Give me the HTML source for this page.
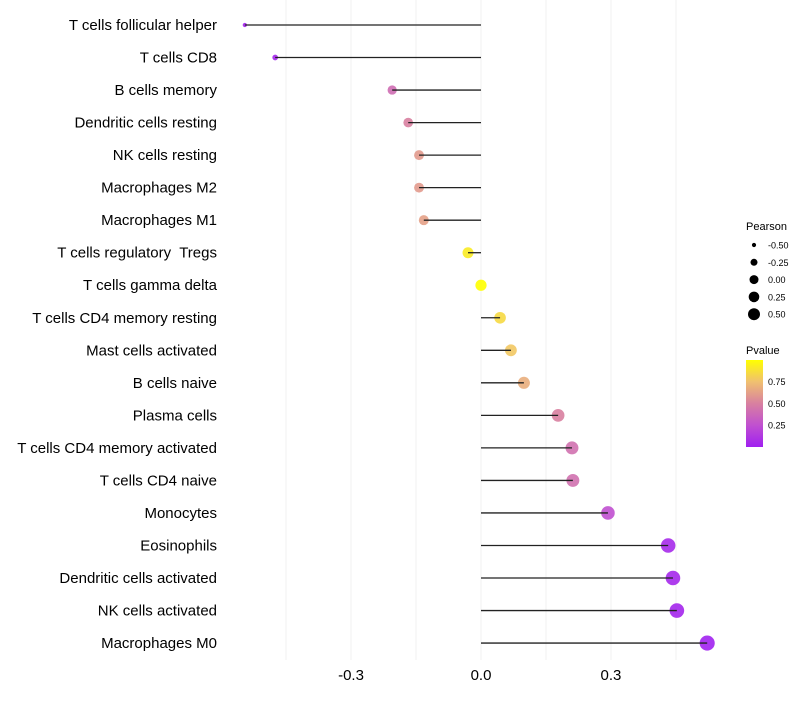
<!DOCTYPE html>
<html><head><meta charset="utf-8"><style>
body{margin:0;background:#fff;font-family:"Liberation Sans",sans-serif}
svg text{font-family:"Liberation Sans",sans-serif;white-space:pre}
</style></head><body>
<svg id="chart" width="800" height="700" xmlns="http://www.w3.org/2000/svg">
<g id="grid"></g>
<g id="ylab"></g>
<g id="xlab"></g>
<g id="marks"></g>
<g id="legend"></g>
</svg>
<script>
const categories=["T cells follicular helper","T cells CD8","B cells memory","Dendritic cells resting","NK cells resting","Macrophages M2","Macrophages M1","T cells regulatory  Tregs","T cells gamma delta","T cells CD4 memory resting","Mast cells activated","B cells naive","Plasma cells","T cells CD4 memory activated","T cells CD4 naive","Monocytes","Eosinophils","Dendritic cells activated","NK cells activated","Macrophages M0"];
const pearson=[-0.545,-0.475,-0.205,-0.168,-0.143,-0.143,-0.132,-0.03,0.0,0.044,0.069,0.099,0.178,0.21,0.212,0.293,0.432,0.443,0.452,0.522];
const pvalue=[0.02,0.03,0.4,0.5,0.6,0.6,0.63,0.92,1.0,0.85,0.78,0.68,0.5,0.42,0.42,0.25,0.05,0.04,0.03,0.01];
const xTicks=[-0.3,0.0,0.3];
const xTickLabels=["-0.3","0.0","0.3"];
const gridVals=[-0.45,-0.3,-0.15,0,0.15,0.3,0.45];
const legendSizes=[-0.5,-0.25,0.0,0.25,0.5];
const legendSizeLabels=["-0.50","-0.25","0.00","0.25","0.50"];
const pTicks=[0.25,0.5,0.75];
const pTickLabels=["0.25","0.50","0.75"];

const NS="http://www.w3.org/2000/svg";
const x=v=>481+v*433.3;
const y=i=>25+i*32.53;
const r=v=>1.08*Math.sqrt(Math.max(1,27+42.2*v));
const stops=[[0,[160,32,240]],[0.25,[192,80,208]],[0.5,[216,128,160]],[0.75,[240,192,112]],[1,[255,255,0]]];
function col(p){for(let k=1;k<stops.length;k++){if(p<=stops[k][0]){const a=stops[k-1],b=stops[k];const t=(p-a[0])/(b[0]-a[0]);const c=a[1].map((u,j)=>Math.round(u+(b[1][j]-u)*t));return `rgb(${c})`;}}return "rgb(255,255,0)";}
function mk(tag,attrs,parent){const e=document.createElementNS(NS,tag);for(const k in attrs)e.setAttribute(k,attrs[k]);parent.appendChild(e);return e;}
const G=document.getElementById('grid'),YL=document.getElementById('ylab'),XL=document.getElementById('xlab'),M=document.getElementById('marks'),L=document.getElementById('legend');
gridVals.forEach(v=>{const l=mk('line',{x1:x(v),x2:x(v),y1:0,y2:660,stroke:'#f0f0f0','stroke-width':1},G);

});
xTicks.forEach((v,i)=>{const t=mk('text',{x:x(v),y:680,'text-anchor':'middle','font-size':15,fill:'#000'},XL);t.textContent=xTickLabels[i];

});
categories.forEach((c,i)=>{
const t=mk('text',{x:217,y:y(i)+5,'text-anchor':'end','font-size':15,fill:'#000'},YL);t.textContent=c;


const p=mk('circle',{cx:x(pearson[i]),cy:y(i),r:r(pearson[i]),fill:col(pvalue[i]),'fill-opacity':0.9},M);


const l=mk('line',{x1:x(0),x2:x(pearson[i]),y1:y(i),y2:y(i),stroke:'#222','stroke-width':1.3},M);


});
let tt=mk('text',{x:746,y:230,'font-size':11},L);tt.textContent="Pearson";


legendSizes.forEach((v,i)=>{const cy=245+i*17.3;
const c=mk('circle',{cx:754,cy:cy,r:r(v)*0.8,fill:'#000'},L);


const t=mk('text',{x:768,y:cy+3.5,'font-size':9},L);t.textContent=legendSizeLabels[i];

});
tt=mk('text',{x:746,y:354,'font-size':11},L);tt.textContent="Pvalue";


const defs=mk('defs',{},L);const g=mk('linearGradient',{id:'pg',x1:0,y1:1,x2:0,y2:0},defs);
stops.forEach(s=>mk('stop',{offset:s[0],'stop-color':`rgb(${s[1]})`},g));
const bar=mk('rect',{x:746,y:360,width:17,height:87,fill:'url(#pg)'},L);


pTicks.forEach((v,i)=>{const yy=446.5-v*86.5;
const t=mk('text',{x:768,y:yy+3.5,'font-size':9},L);t.textContent=pTickLabels[i];

});
</script>
</body></html>
